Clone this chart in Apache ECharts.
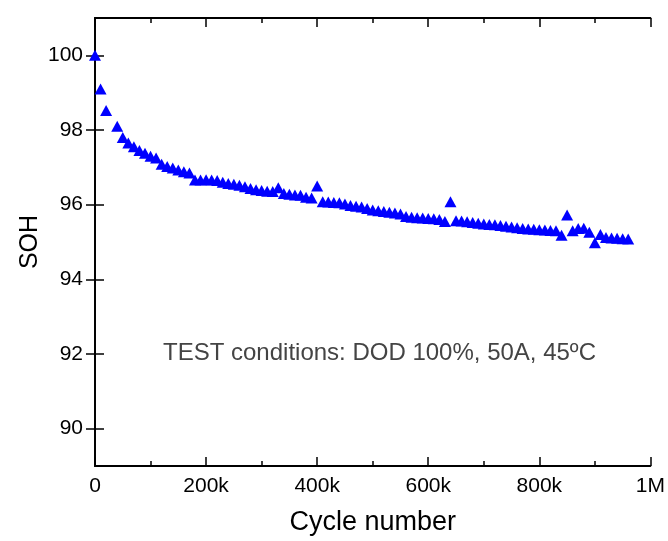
<!DOCTYPE html>
<html>
<head>
<meta charset="utf-8">
<script src="https://cdn.jsdelivr.net/npm/echarts@6/dist/echarts.min.js"></script>
<style>html,body{margin:0;padding:0;background:#fff;}#c{width:668px;height:541px;}</style>
</head>
<body>
<div id="c"></div>
<script>
// Cycle number (thousands)
const cycles = [0,10,20,40,50,60,70,80,90,100,110,120,130,140,150,160,170,180,190,200,
  210,220,230,240,250,260,270,280,290,300,310,320,330,340,350,360,370,380,390,400,
  410,420,430,440,450,460,470,480,490,500,510,520,530,540,550,560,570,580,590,600,
  610,620,630,640,650,660,670,680,690,700,710,720,730,740,750,760,770,780,790,800,
  810,820,830,840,850,860,870,880,890,900,910,920,930,940,950,960];
// State of health (%)
const soh = [100.0,99.1,98.52,98.1,97.8,97.65,97.55,97.45,97.38,97.3,97.25,97.08,97.02,96.98,96.93,96.88,96.85,96.66,96.66,96.67,
  96.66,96.65,96.6,96.57,96.55,96.52,96.48,96.43,96.4,96.38,96.36,96.35,96.45,96.3,96.28,96.26,96.25,96.2,96.18,96.5,
  96.08,96.07,96.06,96.05,96.02,95.98,95.96,95.94,95.9,95.86,95.84,95.82,95.8,95.78,95.75,95.68,95.66,95.65,95.64,95.63,
  95.62,95.6,95.55,96.08,95.57,95.56,95.54,95.52,95.5,95.48,95.47,95.46,95.44,95.42,95.4,95.38,95.36,95.35,95.34,95.33,
  95.32,95.31,95.3,95.18,95.72,95.3,95.36,95.37,95.26,94.98,95.2,95.12,95.11,95.1,95.09,95.08];
const xTickLabels = {0:'0',200000:'200k',400000:'400k',600000:'600k',800000:'800k',1000000:'1M'};
const yTicks = [90, 92, 94, 96, 98, 100];
const annotation = 'TEST conditions: DOD 100%, 50A, 45ºC';

const FONT = 'Arial, "Liberation Sans", sans-serif';
const points = cycles.map((c, i) => [c * 1000, soh[i]]);

const chart = echarts.init(document.getElementById('c'), null, {renderer: 'canvas'});
const axisLine = {show: true, lineStyle: {color: '#000', width: 1.8}};
const tickStyle = {color: '#000', width: 1.5};
chart.setOption({
  animation: false,
  backgroundColor: '#fff',
  grid: {left: 95, right: 14, top: 18, bottom: 74, containLabel: false},
  xAxis: [{
    type: 'value', min: 0, max: 1000000, interval: 200000, position: 'bottom',
    axisLine: axisLine,
    axisTick: {show: true, inside: true, length: 9, lineStyle: tickStyle},
    minorTick: {show: true, splitNumber: 2, length: 5, lineStyle: tickStyle},
    splitLine: {show: false},
    axisLabel: {color: '#000', fontSize: 21, fontFamily: FONT, margin: 10,
      formatter: v => xTickLabels[v] !== undefined ? xTickLabels[v] : ''},
    name: 'Cycle number', nameLocation: 'middle', nameGap: 43,
    nameTextStyle: {color: '#000', fontSize: 27, fontFamily: FONT}
  }, {
    type: 'value', min: 0, max: 1000000, interval: 200000, position: 'top',
    axisLine: axisLine,
    axisTick: {show: true, inside: true, length: 9, lineStyle: tickStyle},
    minorTick: {show: true, splitNumber: 2, length: 5, lineStyle: tickStyle},
    axisLabel: {show: false}, splitLine: {show: false}
  }],
  yAxis: [{
    type: 'value', min: 89, max: 101, position: 'left',
    axisLine: axisLine,
    axisTick: {show: true, inside: true, length: 9, lineStyle: tickStyle, customValues: yTicks},
    axisLabel: {color: '#000', fontSize: 21, fontFamily: FONT, margin: 12, customValues: yTicks},
    splitLine: {show: false},
    name: 'SOH', nameLocation: 'middle', nameGap: 52, nameMoveOverlap: false,
    nameTextStyle: {color: '#000', fontSize: 25, fontFamily: FONT}
  }, {
    type: 'value', min: 89, max: 101, position: 'right',
    axisLine: axisLine,
    axisTick: {show: true, inside: true, length: 9, lineStyle: tickStyle, customValues: yTicks},
    axisLabel: {show: false}, splitLine: {show: false}
  }],
  graphic: [{
    type: 'text', left: 163, top: 341, z: 10,
    style: {text: annotation, fill: '#444', fontSize: 24, fontFamily: FONT}
  }],
  series: [{
    type: 'scatter', xAxisIndex: 0, yAxisIndex: 0,
    data: points, symbol: 'triangle', symbolSize: [12, 11],
    itemStyle: {color: '#0000ff', opacity: 1},
    clip: false
  }]
});
</script>
</body>
</html>
